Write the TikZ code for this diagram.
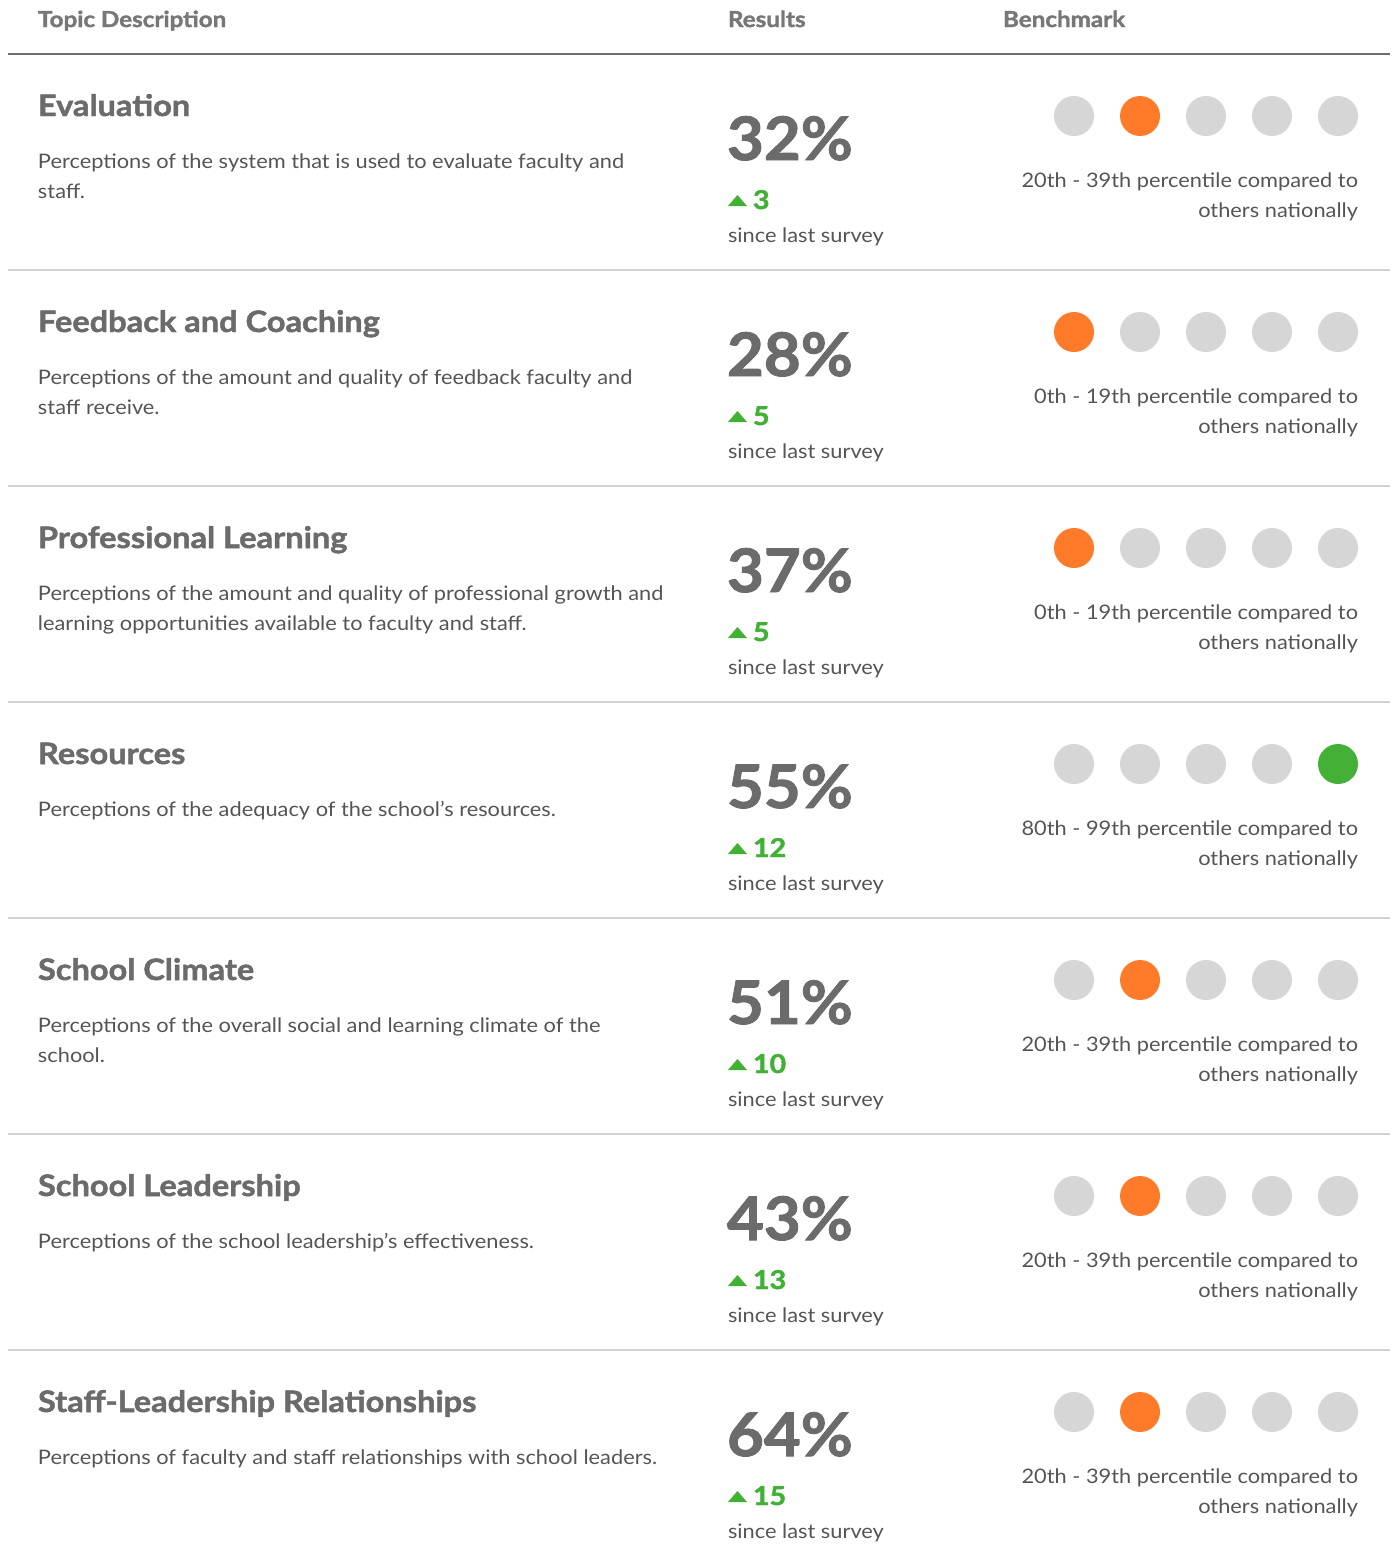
\documentclass[tikz,border=0pt]{standalone}
\usepackage{fontspec}
\setmainfont{Lato}[FakeStretch=1.09]
\newfontfamily\heavyfont{Lato}[FakeStretch=1.1, BoldFeatures={FakeBold=1.6}]
\newfontfamily\pctfont{Lato}[FakeStretch=1.06, BoldFeatures={FakeBold=1.6}]
\definecolor{titlegrey}{HTML}{6B6B6B}
\definecolor{bodygrey}{HTML}{555555}
\definecolor{hdrgrey}{HTML}{777777}
\definecolor{dotgrey}{HTML}{D6D6D6}
\definecolor{dotorange}{HTML}{FF7A29}
\definecolor{dotgreen}{HTML}{44B035}
\definecolor{upgreen}{HTML}{41B136}
\definecolor{sepgrey}{HTML}{D2D2D2}
\definecolor{linegrey}{HTML}{6E6E6E}
\tikzset{
  txt/.style={inner sep=0pt, outer sep=0pt},
  hdr/.style={txt, anchor=base west, text=hdrgrey, font=\heavyfont\fontsize{11pt}{13pt}\selectfont\bfseries},
  ttl/.style={txt, anchor=base west, text=titlegrey, font=\heavyfont\fontsize{14.8pt}{17pt}\selectfont\bfseries},
  desc/.style={txt, anchor=base west, text=bodygrey, font=\fontsize{10pt}{12pt}\selectfont},
  bench/.style={txt, anchor=base east, text=bodygrey, font=\fontsize{10pt}{12pt}\selectfont},
  pct/.style={txt, anchor=base west, text=titlegrey, font=\pctfont\fontsize{30pt}{34pt}\selectfont\bfseries},
  delta/.style={txt, anchor=base west, text=upgreen, font=\heavyfont\fontsize{13pt}{15pt}\selectfont\bfseries},
  dot/.style={circle, minimum size=20pt, inner sep=0pt, draw=none},
  hdrline/.style={linegrey, line width=1pt},
  sepline/.style={sepgrey, line width=1pt}
}
\begin{document}
\begin{tikzpicture}[x=0.5pt,y=-0.5pt]
\useasboundingbox (0,0) rectangle (1394,1560);
\fill[white] (0,0) rectangle (1394,1560);
% header
\node[hdr] (hTopic) at (38,27) {Topic Description};
\node[hdr] (hResults) at (728,27) {Results};
\node[hdr] (hBench) at (1003,27) {Benchmark};
\coordinate (hlA) at (8,54);
\coordinate (hlB) at (1390,54);
\draw[hdrline] (hlA) -- (hlB);
% rows
\foreach \i/\title/\la/\lb/\pc/\dl/\bm/\lvl/\cc in {
 1/{Evaluation}/{Perceptions of the system that is used to evaluate faculty and}/{staff.}/{32\%}/3/{20th - 39th percentile compared to}/2/dotorange,
 2/{Feedback and Coaching}/{Perceptions of the amount and quality of feedback faculty and}/{staff receive.}/{28\%}/5/{0th - 19th percentile compared to}/1/dotorange,
 3/{Professional Learning}/{Perceptions of the amount and quality of professional growth and}/{learning opportunities available to faculty and staff.}/{37\%}/5/{0th - 19th percentile compared to}/1/dotorange,
 4/{Resources}/{Perceptions of the adequacy of the school’s resources.}/{}/{55\%}/12/{80th - 99th percentile compared to}/5/dotgreen,
 5/{School Climate}/{Perceptions of the overall social and learning climate of the}/{school.}/{51\%}/10/{20th - 39th percentile compared to}/2/dotorange,
 6/{School Leadership}/{Perceptions of the school leadership’s effectiveness.}/{}/{43\%}/13/{20th - 39th percentile compared to}/2/dotorange,
 7/{Staff-Leadership Relationships}/{Perceptions of faculty and staff relationships with school leaders.}/{}/{64\%}/15/{20th - 39th percentile compared to}/2/dotorange}
{
  \pgfmathsetmacro\oy{(\i-1)*216}
  \node[ttl] (title\i) at (38,116+\oy) {\title};
  \node[desc] (descA\i) at (38,168+\oy) {\la};
  \node[desc] (descB\i) at (38,198+\oy) {\lb};
  \node[pct] (pct\i) at (727,160+\oy) {\pc};
  \fill[upgreen] (728,206+\oy) -- (747,206+\oy) -- (737.5,195+\oy) -- cycle;
  \node[delta] (delta\i) at (753,209+\oy) {\dl};
  \node[desc] (since\i) at (728,242+\oy) {since last survey};
  \foreach \k in {1,...,5}{
    \ifnum\k=\lvl
      \node[dot, fill=\cc] (dot\i-\k) at (1074+66*\k-66,116+\oy) {};
    \else
      \node[dot, fill=dotgrey] (dot\i-\k) at (1074+66*\k-66,116+\oy) {};
    \fi
  }
  \node[bench] (benchA\i) at (1358,187+\oy) {\bm};
  \node[bench] (benchB\i) at (1358,217+\oy) {others nationally};
  \ifnum\i<7
    \coordinate (sepA\i) at (8,270+\oy);
    \coordinate (sepB\i) at (1390,270+\oy);
    \draw[sepline] (sepA\i) -- (sepB\i);
  \fi
}
\end{tikzpicture}
\end{document}
